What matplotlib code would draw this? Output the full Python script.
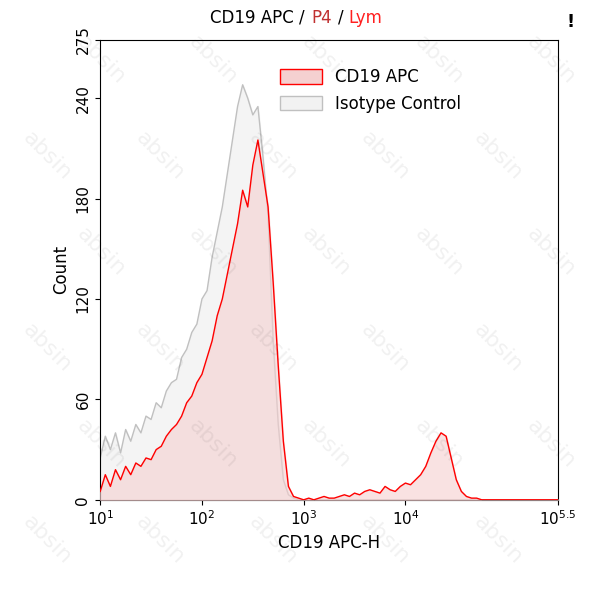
import matplotlib.pyplot as plt
import matplotlib.patches as mpatches
import numpy as np

# histogram bins (log10 of CD19 APC-H), step 0.05
log_bins = np.round(np.arange(1.0, 5.5001, 0.05), 2)

iso_counts = [25, 38, 30, 40, 28, 42, 35, 45, 40, 50, 48, 58, 55, 65, 70, 72, 85, 90, 100, 105,
              120, 125, 145, 160, 175, 195, 215, 235, 248, 240, 230, 235, 205, 170, 95, 45, 12, 3, 1, 0]
cd19_counts = [5, 15, 8, 18, 12, 20, 15, 22, 20, 25, 24, 30, 32, 38, 42, 45, 50, 58, 62, 70,
               75, 85, 95, 110, 120, 135, 150, 165, 185, 175, 200, 215, 195, 175, 130, 80, 35, 8, 2, 1,
               0, 1, 0, 1, 2, 1, 1, 2, 3, 2, 4, 3, 5, 6, 5, 4, 8, 6, 5, 8,
               10, 9, 12, 15, 20, 28, 35, 40, 38, 25, 12, 5, 2, 1, 1, 0]
iso_counts = iso_counts + [0] * (len(log_bins) - len(iso_counts))
cd19_counts = cd19_counts + [0] * (len(log_bins) - len(cd19_counts))

y_ticks = [0, 60, 120, 180, 240, 275]
x_ticks = [1, 2, 3, 4, 5.5]
x_labels = ['$10^{1}$', '$10^{2}$', '$10^{3}$', '$10^{4}$', '$10^{5.5}$']

fig = plt.figure(figsize=(5.93, 6.0), dpi=100)
ax = fig.add_axes([0.169, 0.167, 0.772, 0.767])

x = 10 ** log_bins
ax.fill_between(x, iso_counts, color='#f2f2f2', alpha=0.8, zorder=1)
ax.plot(x, iso_counts, color='#c0c0c0', lw=1, zorder=2)
ax.fill_between(x, cd19_counts, color='#f5d0d0', alpha=0.6, zorder=3)
ax.plot(x, cd19_counts, color='#ff0000', lw=1, zorder=4)

ax.set_xscale('log')
ax.set_xlim(10, 10 ** 5.5)
ax.set_ylim(0, 275)
ax.set_xticks([10 ** t for t in x_ticks])
ax.set_xticklabels(x_labels, fontsize=11)
ax.xaxis.set_minor_locator(plt.NullLocator())
ax.set_yticks(y_ticks)
ax.set_yticklabels([str(v) for v in y_ticks], rotation=90, va='center', fontsize=11)
ax.set_xlabel('CD19 APC-H', fontsize=12)
ax.set_ylabel('Count', fontsize=12)

handles = [mpatches.Patch(facecolor='#f5d0d0', edgecolor='red', label='CD19 APC'),
           mpatches.Patch(facecolor='#f2f2f2', edgecolor='#c0c0c0', label='Isotype Control')]
ax.legend(handles=handles, loc='upper left', bbox_to_anchor=(0.36, 0.97), frameon=False,
          fontsize=12, handlelength=2.5, handleheight=1.0)

# title with coloured parts
fig.text(0.354, 0.962, 'CD19 APC /', fontsize=12, ha='left')
fig.text(0.525, 0.962, 'P4', fontsize=12, color='#c03030', ha='left')
fig.text(0.570, 0.962, '/', fontsize=12, ha='left')
fig.text(0.588, 0.962, 'Lym', fontsize=12, color='#ff2020', ha='left')
fig.text(0.955, 0.955, '!', fontsize=13, fontweight='bold')

# watermark
for i in range(5):
    for j in range(6):
        fig.text(0.08 + i * 0.19 + (j % 2) * 0.09, 0.1 + j * 0.16, 'absin', fontsize=16, color='#000000',
                 alpha=0.06, rotation=-45, ha='center', va='center')

fig.savefig('out.png')
